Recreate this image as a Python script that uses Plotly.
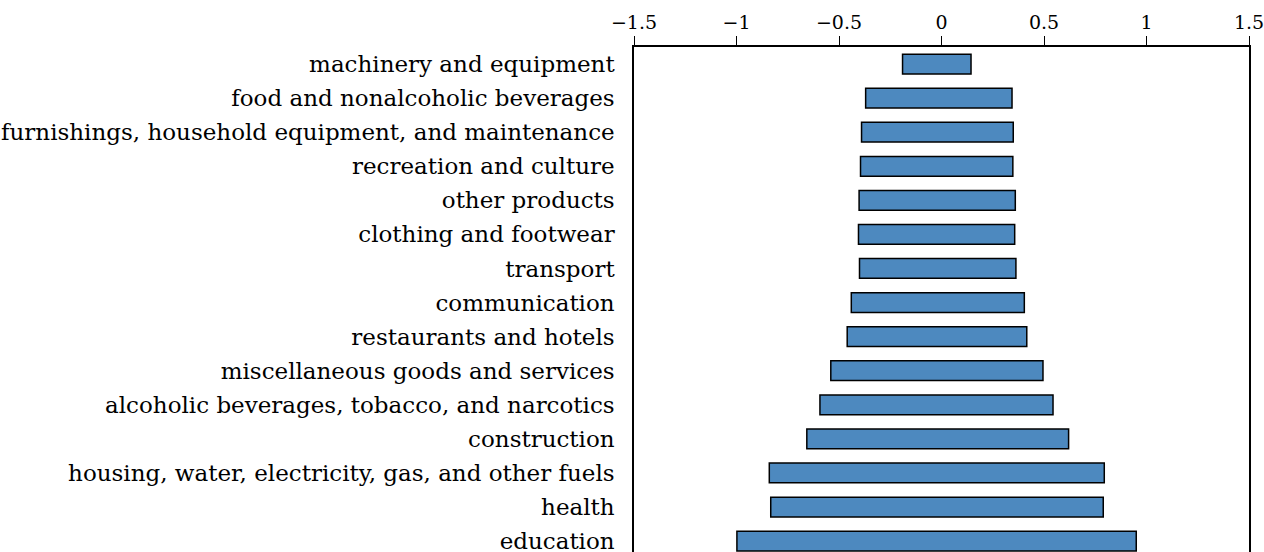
import plotly.graph_objects as go


# =========================================================
# DATA
# =========================================================

categories = [
    "machinery and equipment",
    "food and nonalcoholic beverages",
    "furnishings, household equipment, and maintenance",
    "recreation and culture",
    "other products",
    "clothing and footwear",
    "transport",
    "communication",
    "restaurants and hotels",
    "miscellaneous goods and services",
    "alcoholic beverages, tobacco, and narcotics",
    "construction",
    "housing, water, electricity, gas, and other fuels",
    "health",
    "education",
]

low = [-0.19, -0.37, -0.39, -0.395, -0.402, -0.405, -0.40, -0.44, -0.46,
       -0.54, -0.593, -0.657, -0.84, -0.833, -0.998]
high = [0.144, 0.344, 0.35, 0.348, 0.36, 0.357, 0.363, 0.404, 0.416,
        0.495, 0.544, 0.62, 0.794, 0.789, 0.95]

x_ticks = [-1.5, -1, -0.5, 0, 0.5, 1, 1.5]
x_labels = ["\u22121.5", "\u22121", "\u22120.5", "0", "0.5", "1", "1.5"]


# =========================================================
# FIGURE
# =========================================================

fig = go.Figure(
    go.Bar(
        y=categories,
        x=[h - l for l, h in zip(low, high)],
        base=low,
        orientation="h",
        width=0.58,
        marker=dict(
            color="#4d89bf",
            line=dict(color="black", width=1.5)
        ),
        showlegend=False
    )
)

fig.update_layout(
    width=1264,
    height=552,
    margin=dict(l=634, r=15, t=47, b=0),
    paper_bgcolor="white",
    plot_bgcolor="white",
    font=dict(family="DejaVu Serif", size=19, color="black"),
    xaxis=dict(
        side="top",
        range=[-1.5, 1.5],
        tickvals=x_ticks,
        ticktext=x_labels,
        tickfont=dict(size=19),
        ticks="outside",
        ticklen=9,
        tickcolor="black",
        ticklabeloverflow="allow",
        showline=True,
        linecolor="black",
        linewidth=1.5,
        showgrid=False,
        zeroline=False,
        automargin=False
    ),
    yaxis=dict(
        categoryorder="array",
        categoryarray=categories,
        range=[14.32, -0.5],
        showline=True,
        mirror=True,
        linecolor="black",
        linewidth=1.5,
        showgrid=False,
        ticks="",
        tickfont=dict(size=23),
        ticklabelstandoff=13,
        automargin=False
    )
)

# drop the page's default body margin so the figure sits at 0,0
fig.write_html(
    "out.html",
    config={"displayModeBar": False},
    post_script="document.body.style.margin = '0';"
)
